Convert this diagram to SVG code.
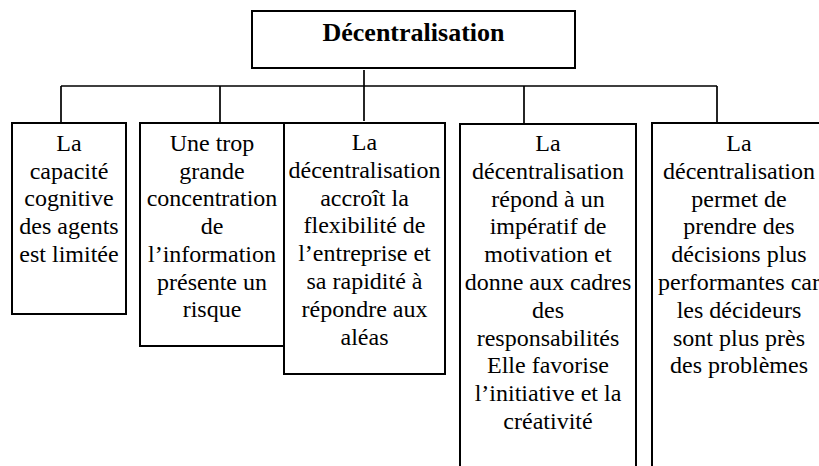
<svg xmlns="http://www.w3.org/2000/svg" width="819" height="466" viewBox="0 0 819 466">
<style>
.box{fill:#fff;stroke:#000;stroke-width:2}
.con{fill:none;stroke:#000;stroke-width:1.7}
.t{font-size:24px;fill:#000;text-anchor:middle}
.title{font-size:26px;font-weight:bold;fill:#000;text-anchor:middle}
</style>
<rect width="819" height="466" fill="#fff"/>
<g id="connectors">
<path class="con" d="M364 70V121M61 86H717M61 86V123M220 86V123M524 86V124M717 86V123"/>
</g>
<g id="root">
<rect class="box" x="252" y="11" width="323" height="57"/>
<text class="title" font-family="Liberation Serif, Tinos, DejaVu Serif, serif" x="413.5" y="41">Décentralisation</text>
</g>
<g id="n1">
<rect class="box" x="12" y="123" width="114" height="191"/>
<text class="t" font-family="Liberation Serif, Tinos, DejaVu Serif, serif" x="69" y="151"><tspan x="69">La</tspan><tspan x="69" dy="27.7">capacité</tspan><tspan x="69" dy="27.7">cognitive</tspan><tspan x="69" dy="27.7">des agents</tspan><tspan x="69" dy="27.7">est limitée</tspan></text>
</g>
<g id="n2">
<rect class="box" x="140" y="123" width="144" height="223"/>
<text class="t" font-family="Liberation Serif, Tinos, DejaVu Serif, serif" x="212" y="151"><tspan x="212">Une trop</tspan><tspan x="212" dy="27.7">grande</tspan><tspan x="212" dy="27.7">concentration</tspan><tspan x="212" dy="27.7">de</tspan><tspan x="212" dy="27.7">l’information</tspan><tspan x="212" dy="27.7">présente un</tspan><tspan x="212" dy="27.7">risque</tspan></text>
</g>
<g id="n3">
<rect class="box" x="284" y="123" width="161" height="251"/>
<text class="t" font-family="Liberation Serif, Tinos, DejaVu Serif, serif" x="364.5" y="150"><tspan x="364.5">La</tspan><tspan x="364.5" dy="27.8">décentralisation</tspan><tspan x="364.5" dy="27.8">accroît la</tspan><tspan x="364.5" dy="27.8">flexibilité de</tspan><tspan x="364.5" dy="27.8">l’entreprise et</tspan><tspan x="364.5" dy="27.8">sa rapidité à</tspan><tspan x="364.5" dy="27.8">répondre aux</tspan><tspan x="364.5" dy="27.8">aléas</tspan></text>
</g>
<g id="n4">
<rect class="box" x="460" y="124" width="176" height="360"/>
<text class="t" font-family="Liberation Serif, Tinos, DejaVu Serif, serif" x="548" y="151"><tspan x="548">La</tspan><tspan x="548" dy="27.8">décentralisation</tspan><tspan x="548" dy="27.8">répond à un</tspan><tspan x="548" dy="27.8">impératif de</tspan><tspan x="548" dy="27.8">motivation et</tspan><tspan x="548" dy="27.8">donne aux cadres</tspan><tspan x="548" dy="27.8">des</tspan><tspan x="548" dy="27.8">responsabilités</tspan><tspan x="548" dy="27.8">Elle favorise</tspan><tspan x="548" dy="27.8">l’initiative et la</tspan><tspan x="548" dy="27.8">créativité</tspan></text>
</g>
<g id="n5">
<rect class="box" x="652" y="123" width="176" height="360"/>
<text class="t" font-family="Liberation Serif, Tinos, DejaVu Serif, serif" x="739" y="151"><tspan x="739">La</tspan><tspan x="739" dy="27.8">décentralisation</tspan><tspan x="739" dy="27.8">permet de</tspan><tspan x="739" dy="27.8">prendre des</tspan><tspan x="739" dy="27.8">décisions plus</tspan><tspan x="739" dy="27.8">performantes car</tspan><tspan x="739" dy="27.8">les décideurs</tspan><tspan x="739" dy="27.8">sont plus près</tspan><tspan x="739" dy="27.8">des problèmes</tspan></text>
</g>
</svg>
